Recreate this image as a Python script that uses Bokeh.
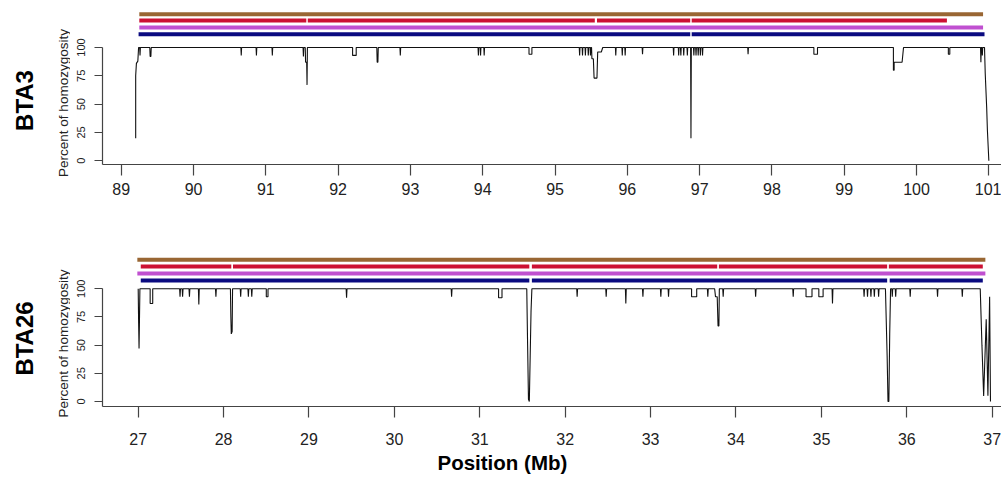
import math
from bokeh.plotting import figure
from bokeh.models import LinearAxis, FixedTicker, Range1d, Title
from bokeh.layouts import column, row
from bokeh.core.properties import value
from bokeh.embed import file_html
from bokeh.resources import INLINE

# ---------------- data ----------------
bta3_ticks = list(range(89, 102))
bta26_ticks = list(range(27, 38))
pct_ticks = [0, 25, 50, 75, 100]

bta3_pos = [89.20, 89.20, 89.21, 89.23, 89.24,
            89.255, 89.26, 89.265,
            89.395, 89.40, 89.41, 89.415,
            90.655, 90.66, 90.665,
            90.865, 90.87, 90.875,
            91.085, 91.09, 91.095,
            91.515, 91.52, 91.525,
            91.545, 91.55, 91.565, 91.57, 91.575,
            92.20, 92.20, 92.25, 92.25,
            92.535, 92.54, 92.55, 92.555,
            92.855, 92.86, 92.865,
            93.935, 93.94, 93.945,
            93.965, 93.97, 93.975,
            94.015, 94.02, 94.025,
            94.64, 94.64, 94.68, 94.68,
            95.335, 95.34, 95.345,
            95.375, 95.38, 95.385,
            95.415, 95.42, 95.425,
            95.455, 95.46, 95.465,
            95.485, 95.49, 95.495,
            95.505, 95.51, 95.53, 95.54, 95.58, 95.59, 95.64, 95.66,
            95.835, 95.84, 95.845,
            95.925, 95.93, 95.935,
            95.965, 95.97, 95.975,
            96.205, 96.21, 96.215,
            96.635, 96.64, 96.645,
            96.705, 96.71, 96.715,
            96.735, 96.74, 96.745,
            96.775, 96.78, 96.785,
            96.825, 96.83, 96.835,
            96.875, 96.88, 96.885,
            96.915, 96.92, 96.925,
            96.945, 96.95, 96.955,
            96.975, 96.98, 96.985,
            97.005, 97.01, 97.015,
            97.035, 97.04, 97.045,
            97.665, 97.67, 97.675,
            98.58, 98.58, 98.63, 98.63,
            99.68, 99.68, 99.69, 99.69, 99.80, 99.82,
            100.44, 100.44, 100.46, 100.46,
            100.885, 100.89, 100.895,
            100.905, 100.91, 100.915,
            100.94, 100.95, 100.97, 100.98, 101.00]
bta3_pct = [20, 75, 86, 88, 100,
            100, 93, 100,
            100, 92, 92, 100,
            100, 93, 100,
            100, 93, 100,
            100, 93, 100,
            100, 92, 100,
            100, 87, 87, 67, 100,
            100, 93, 93, 100,
            100, 87, 87, 100,
            100, 93, 100,
            100, 93, 100,
            100, 93, 100,
            100, 93, 100,
            100, 94, 94, 100,
            100, 93, 100,
            100, 93, 100,
            100, 93, 100,
            100, 93, 100,
            100, 93, 100,
            100, 90, 90, 73, 73, 96, 96, 100,
            100, 93, 100,
            100, 93, 100,
            100, 93, 100,
            100, 94, 100,
            100, 93, 100,
            100, 93, 100,
            100, 93, 100,
            100, 93, 100,
            100, 93, 100,
            100, 20, 100,
            100, 93, 100,
            100, 93, 100,
            100, 93, 100,
            100, 93, 100,
            100, 93, 100,
            100, 94, 100,
            100, 94, 94, 100,
            100, 80, 80, 87, 87, 100,
            100, 94, 94, 100,
            100, 87, 100,
            100, 93, 100,
            100, 77, 47, 27, 0]

bta26_pos = [27.00, 27.005, 27.01, 27.015, 27.02,
             27.14, 27.14, 27.17, 27.17,
             27.485, 27.49, 27.495,
             27.515, 27.52, 27.525,
             27.595, 27.60, 27.605,
             27.705, 27.71, 27.715,
             27.905, 27.91, 27.915,
             28.08, 28.085, 28.09, 28.10, 28.105,
             28.195, 28.20, 28.205,
             28.285, 28.29, 28.295,
             28.325, 28.33, 28.335,
             28.50, 28.50, 28.52, 28.52,
             29.435, 29.44, 29.445,
             30.665, 30.67, 30.675,
             31.22, 31.22, 31.26, 31.26,
             31.55, 31.56, 31.57, 31.58, 31.59, 31.60, 31.61,
             32.135, 32.14, 32.145,
             32.475, 32.48, 32.485,
             32.705, 32.71, 32.715,
             32.905, 32.91, 32.915,
             33.115, 33.12, 33.125,
             33.205, 33.21, 33.215,
             33.48, 33.48, 33.54, 33.54,
             33.665, 33.67, 33.675,
             33.75, 33.76, 33.78, 33.79, 33.80, 33.805,
             33.845, 33.85, 33.855,
             34.225, 34.23, 34.235,
             34.665, 34.67, 34.675,
             34.82, 34.82, 34.89, 34.89,
             34.97, 34.97, 35.02, 35.02,
             35.125, 35.13, 35.135,
             35.495, 35.50, 35.505,
             35.535, 35.54, 35.545,
             35.575, 35.58, 35.585,
             35.615, 35.62, 35.625,
             35.665, 35.67, 35.675,
             35.75, 35.77, 35.78, 35.79, 35.80, 35.81,
             35.825, 35.83, 35.835,
             35.865, 35.87, 35.875,
             36.035, 36.04, 36.045,
             36.355, 36.36, 36.365,
             36.645, 36.65, 36.655,
             36.86, 36.88, 36.90, 36.93, 36.95, 36.97, 36.98]
bta26_pct = [100, 70, 47, 73, 100,
             100, 87, 87, 100,
             100, 93, 100,
             100, 93, 100,
             100, 93, 100,
             100, 86, 100,
             100, 93, 100,
             100, 75, 60, 62, 100,
             100, 93, 100,
             100, 93, 100,
             100, 93, 100,
             100, 93, 93, 100,
             100, 92, 100,
             100, 93, 100,
             100, 92, 92, 100,
             100, 50, 2, 0, 40, 80, 100,
             100, 93, 100,
             100, 93, 100,
             100, 87, 100,
             100, 93, 100,
             100, 93, 100,
             100, 93, 100,
             100, 93, 93, 100,
             100, 93, 100,
             100, 93, 93, 67, 67, 100,
             100, 93, 100,
             100, 93, 100,
             100, 93, 100,
             100, 93, 93, 100,
             100, 93, 93, 100,
             100, 87, 100,
             100, 93, 100,
             100, 93, 100,
             100, 93, 100,
             100, 93, 100,
             100, 93, 100,
             100, 40, 0, 0, 60, 100,
             100, 93, 100,
             100, 93, 100,
             100, 93, 100,
             100, 93, 100,
             100, 93, 100,
             100, 50, 5, 73, 5, 93, 0]

# ROH segments (start, end in Mb) for the four coloured tracks
bta3_brown_start, bta3_brown_end = [89.25], [100.92]
bta3_red_start = [89.25, 91.58, 95.58, 96.89]
bta3_red_end = [91.56, 95.55, 96.87, 100.42]
bta3_mag_start, bta3_mag_end = [89.25], [100.92]
bta3_navy_start = [89.24, 96.89]
bta3_navy_end = [96.87, 100.94]

bta26_brown_start, bta26_brown_end = [26.99], [36.92]
bta26_red_start = [27.03, 28.11, 31.61, 33.80, 35.79]
bta26_red_end = [28.09, 31.58, 33.78, 35.77, 36.89]
bta26_mag_start, bta26_mag_end = [26.99], [36.92]
bta26_navy_start = [27.03, 31.61, 35.80]
bta26_navy_end = [31.58, 35.77, 36.89]

panel_names = ["BTA3", "BTA26"]
y_title = "Percent of homozygosity"
x_title = "Position (Mb)"

assert len(bta3_pos) == len(bta3_pct)
assert len(bta26_pos) == len(bta26_pct)

# ---------------- style ----------------
FONT = "Liberation Sans"
BROWN, RED, MAG, NAVY = "#996633", "#CC1133", "#C050D0", "#0A0A80"
AX = "#444444"
TXT = "#222222"
LEFT_W = 70          # width of the label strip on the left
TOTAL_H = 503


def make_panel(pos, pct, xticks, xr, yr, levels, tracks,
               border_top, border_bottom, tick_standoff):
    p = figure(frame_width=899, frame_height=154,
               x_range=Range1d(*xr), y_range=Range1d(*yr),
               min_border_left=32, min_border_right=0,
               min_border_top=border_top, min_border_bottom=border_bottom,
               output_backend="svg", toolbar_location=None,
               x_axis_location=None, y_axis_location=None)
    p.outline_line_color = None
    p.xgrid.visible = False
    p.ygrid.visible = False
    p.background_fill_color = "white"
    p.border_fill_color = "white"

    for (starts, ends, color), lvl in zip(tracks, levels):
        p.segment(x0=starts, x1=ends, y0=[lvl] * len(starts), y1=[lvl] * len(starts),
                  line_color=color, line_width=4, line_cap="butt")

    p.line(pos, pct, line_color="#111111", line_width=1.1)

    xa = LinearAxis(ticker=FixedTicker(ticks=xticks, minor_ticks=[]))
    xa.axis_line_color = AX
    xa.axis_line_width = 1.2
    xa.major_tick_line_color = AX
    xa.major_tick_line_width = 1.2
    xa.major_tick_out = 11
    xa.major_tick_in = 0
    xa.minor_tick_out = 0
    xa.major_label_standoff = tick_standoff
    xa.major_label_text_font = FONT
    xa.major_label_text_font_size = "16px"
    xa.major_label_text_color = TXT
    p.add_layout(xa, "below")

    ya = LinearAxis(ticker=FixedTicker(ticks=pct_ticks, minor_ticks=[]),
                    bounds=(yr[0], 100))
    ya.axis_line_color = AX
    ya.axis_line_width = 1.2
    ya.major_tick_line_color = AX
    ya.major_tick_line_width = 1.2
    ya.major_tick_out = 8
    ya.major_tick_in = 0
    ya.minor_tick_out = 0
    ya.major_label_orientation = "vertical"
    ya.major_label_standoff = 9
    ya.major_label_text_font = FONT
    ya.major_label_text_font_size = "11px"
    ya.major_label_text_color = TXT
    p.add_layout(ya, "left")
    return p


p1 = make_panel(bta3_pos, bta3_pct, bta3_ticks,
                xr=(88.741, 101.175), yr=(-3.27, 132.65),
                levels=[129.4, 123.8, 117.6, 111.7],
                tracks=[(bta3_brown_start, bta3_brown_end, BROWN),
                        (bta3_red_start, bta3_red_end, RED),
                        (bta3_mag_start, bta3_mag_end, MAG),
                        (bta3_navy_start, bta3_navy_end, NAVY)],
                border_top=10, border_bottom=61, tick_standoff=7)

p2 = make_panel(bta26_pos, bta26_pct, bta26_ticks,
                xr=(26.582, 37.109), yr=(-4.44, 132.2),
                levels=[125.7, 119.8, 113.6, 107.4],
                tracks=[(bta26_brown_start, bta26_brown_end, BROWN),
                        (bta26_red_start, bta26_red_end, RED),
                        (bta26_mag_start, bta26_mag_end, MAG),
                        (bta26_navy_start, bta26_navy_end, NAVY)],
                border_top=27, border_bottom=97, tick_standoff=15)

t = Title(text=x_title, align="left", offset=335, vertical_align="top",
          standoff=6, text_font=FONT, text_font_size="20.5px",
          text_font_style="bold", text_color="black")
p2.add_layout(t, "below")

# label strip on the left (pixel coordinates, y measured from the bottom)
lab = figure(width=LEFT_W, height=TOTAL_H,
             x_range=Range1d(0, LEFT_W), y_range=Range1d(0, TOTAL_H),
             min_border=0, output_backend="svg", toolbar_location=None,
             x_axis_location=None, y_axis_location=None)
lab.outline_line_color = None
lab.xgrid.visible = False
lab.ygrid.visible = False
lab.text(x=[24, 24], y=[TOTAL_H - 100, TOTAL_H - 338], text=panel_names,
         angle=math.pi / 2, text_font=value(FONT), text_font_size="24px",
         text_font_style="bold", text_color="black",
         text_align="center", text_baseline="middle")
lab.text(x=[62.5, 62.5], y=[TOTAL_H - 102.5, TOTAL_H - 343], text=[y_title, y_title],
         angle=math.pi / 2, text_font=value(FONT), text_font_size="13.5px",
         text_color=TXT, text_align="center", text_baseline="middle")

layout = row(lab, column(p1, p2, spacing=0), spacing=0)
open("out.html", "w").write(file_html(layout, INLINE))
